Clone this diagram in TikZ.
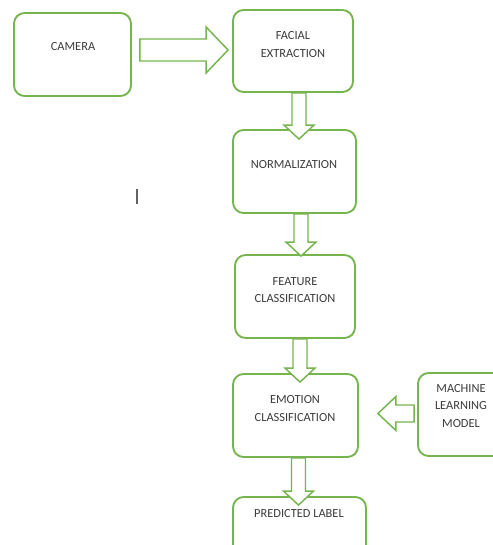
\documentclass[tikz,border=0pt]{standalone}
\usepackage{fontspec}
\setmainfont{Carlito}
\usetikzlibrary{calc}

\definecolor{boxgreen}{RGB}{118,180,78}
\definecolor{txtgray}{RGB}{60,60,60}

\tikzset{every picture/.style={line width=0.75pt}}
\tikzset{
  stagebox/.style 2 args={draw=boxgreen, line width=1.4pt, rounded corners=8pt, fill=white,
    inner sep=0pt, minimum width=#1*0.75pt, minimum height=#2*0.75pt},
  stagetext/.style={text=txtgray, align=center, font=\fontsize{9.3}{13.1}\selectfont},
  blockarr/.style={draw=boxgreen, line width=1.1pt, fill=white, line join=miter},
}

% down block arrow: #1 from box, #2 to box, #3 x of shaft, #4 tip depth into #2
\newcommand{\flowdown}[4]{%
  \draw[blockarr] ($(#1.south -| #3,0)+(-7,0)$) -- ($(#2.north -| #3,0)+(-7,#4-14)$)
    -- ($(#2.north -| #3,0)+(-15,#4-14)$) -- ($(#2.north -| #3,0)+(0,#4)$)
    -- ($(#2.north -| #3,0)+(15,#4-14)$) -- ($(#2.north -| #3,0)+(7,#4-14)$)
    -- ($(#1.south -| #3,0)+(7,0)$) -- cycle ;}

\begin{document}
\begin{tikzpicture}[x=0.75pt,y=0.75pt,yscale=-1,xscale=1]
\useasboundingbox (0,0) rectangle (492,545);

%Shape: Rounded Rectangle
\node[stagebox={117}{83}] (camera) at (72.5,54.5) {};
%Shape: Rounded Rectangle
\node[stagebox={120}{82}] (facial) at (293,51) {};
%Shape: Rounded Rectangle
\node[stagebox={123}{83}] (norm) at (294.5,171.5) {};
%Shape: Rounded Rectangle
\node[stagebox={120}{83}] (feature) at (295,296.5) {};
%Shape: Rounded Rectangle
\node[stagebox={125}{83}] (emotion) at (295.5,415.5) {};
%Shape: Rounded Rectangle
\node[stagebox={86}{83}] (ml) at (461,414.5) {};
%Shape: Rounded Rectangle
\node[stagebox={133}{80}] (pred) at (299.5,537) {};

%Shape: Right Arrow
\draw[blockarr] ($(camera.east |- 0,50)+(8,-11)$) -- ($(facial.west |- 0,50)+(-26,-11)$)
  -- ($(facial.west |- 0,50)+(-26,-23)$) -- ($(facial.west |- 0,50)+(-4,0)$)
  -- ($(facial.west |- 0,50)+(-26,23)$) -- ($(facial.west |- 0,50)+(-26,11)$)
  -- ($(camera.east |- 0,50)+(8,11)$) -- cycle ;
%Shape: Down Arrow
\flowdown{facial}{norm}{299}{10}
%Shape: Down Arrow
\flowdown{norm}{feature}{301}{2}
%Shape: Down Arrow
\flowdown{feature}{emotion}{300}{9}
%Shape: Down Arrow
\flowdown{emotion}{pred}{298.5}{9}
%Shape: Left Arrow
\draw[blockarr] ($(ml.west |- 0,413.5)+(-3,-8.5)$) -- ($(emotion.east |- 0,413.5)+(37,-8.5)$)
  -- ($(emotion.east |- 0,413.5)+(37,-17)$) -- ($(emotion.east |- 0,413.5)+(19,0)$)
  -- ($(emotion.east |- 0,413.5)+(37,17)$) -- ($(emotion.east |- 0,413.5)+(37,8.5)$)
  -- ($(ml.west |- 0,413.5)+(-3,8.5)$) -- cycle ;

%Straight Lines
\draw[color=txtgray!80, line width=0.9pt] (137,189) -- (137,204) ;

% Text Node
\node[stagetext] (cameratxt) at (73,47) {CAMERA};
% Text Node
\node[stagetext] (facialtxt) at (293,44.5) {FACIAL\\EXTRACTION};
% Text Node
\node[stagetext] (normtxt) at (294,165) {NORMALIZATION};
% Text Node
\node[stagetext] (featuretxt) at (295,290) {FEATURE\\CLASSIFICATION};
% Text Node
\node[stagetext] (emotiontxt) at (295,408.5) {EMOTION\\CLASSIFICATION};
% Text Node
\node[stagetext] (mltxt) at (461,406) {MACHINE\\LEARNING\\MODEL};
% Text Node
\node[stagetext] (predtxt) at (299,514) {PREDICTED LABEL};

\end{tikzpicture}
\end{document}
